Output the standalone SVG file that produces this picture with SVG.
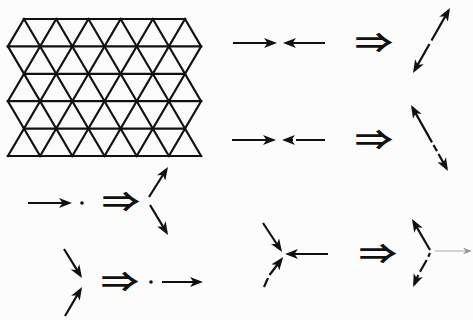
<svg xmlns="http://www.w3.org/2000/svg" width="473" height="320" viewBox="0 0 473 320">
<style>
.lat{fill:none;stroke:#111;stroke-width:2.2;stroke-linecap:square}
.ar{fill:none;stroke:#111;stroke-width:2.2;marker-end:url(#h)}
.dbl{fill:none;stroke:#111;stroke-width:2.2;marker-start:url(#h);marker-end:url(#h)}
.thin{fill:none;stroke:#aaa;stroke-width:1;marker-end:url(#hg)}
.imp{font-family:"Noto Sans CJK JP","DejaVu Sans",sans-serif;font-size:32px;font-weight:bold;fill:#111;text-anchor:middle}
.dot{fill:#111}
</style>
<defs>
<marker id="h" viewBox="0 0 13 10" refX="10" refY="5" markerWidth="13" markerHeight="10" markerUnits="userSpaceOnUse" orient="auto-start-reverse">
<path d="M0,0 L13,5 L0,10 L3.5,5 z" fill="#111"/>
</marker>
<marker id="hg" viewBox="0 0 10 8" refX="8" refY="4" markerWidth="9" markerHeight="7" markerUnits="userSpaceOnUse" orient="auto">
<path d="M0,0 L10,4 L0,8 L3,4 z" fill="#999"/>
</marker>
</defs>
<rect width="473" height="320" fill="#fcfcfc"/>
<g id="lattice" class="lat">
<path d="M24,19H185 M7.9,46.4H201.1 M24,73.8H185 M7.9,101.2H201.1 M24,128.6H185 M7.9,156H201.1"/>
<path d="M7.9,46.4L72.3,156 M7.9,101.2L40.1,156 M24,19L104.5,156 M56.2,19L136.7,156 M88.4,19L168.9,156 M120.6,19L201.1,156 M152.8,19L201.1,101.2 M185,19L201.1,46.4"/>
<path d="M24,19L7.9,46.4 M56.2,19L7.9,101.2 M88.4,19L7.9,156 M120.6,19L40.1,156 M152.8,19L72.3,156 M185,19L104.5,156 M201.1,46.4L136.7,156 M201.1,101.2L168.9,156"/>
</g>
<g id="connectors">
<path class="ar" d="M233,43H274"/>
<path class="ar" d="M325,43H286"/>
<path class="dbl" d="M414.5,70.4L429.5,44 M431.5,40.5L448.5,10.6"/>
<path class="ar" d="M232,140H273"/>
<path class="ar" d="M325,140H296 M293,140H285"/>
<path class="dbl" d="M412.5,107.6L432,142.4 M433.5,145L437,151.3 M438.5,154L446.5,168.4"/>
<path class="ar" d="M28,203H69"/>
<path class="ar" d="M149,197L166.4,169.5"/>
<path class="ar" d="M150,205L166.5,232.4"/>
<path class="ar" d="M64,249L80.4,275.4"/>
<path class="ar" d="M65,316L80.5,289.6"/>
<path class="ar" d="M162,282H200"/>
<path class="ar" d="M263,223L280.4,249.5"/>
<path class="ar" d="M328,254H288"/>
<path class="ar" d="M264,287L268,278 M269.5,275L281.4,259.5"/>
<path class="ar" d="M430,250L413.5,221.6"/>
<path class="ar" d="M430,253L428.3,256.7 M426.7,260L420,271.7 M418.3,275L414.3,284.3"/>
<path class="thin" d="M435,251H470"/>
</g>
<g id="symbols">
<text class="imp" transform="translate(374,43) scale(1.2,0.85)" y="12">⇒</text>
<text class="imp" transform="translate(374,140) scale(1.2,0.85)" y="12">⇒</text>
<text class="imp" transform="translate(121,202) scale(1.2,0.85)" y="12">⇒</text>
<text class="imp" transform="translate(120,282) scale(1.2,0.85)" y="12">⇒</text>
<text class="imp" transform="translate(378,254) scale(1.2,0.85)" y="12">⇒</text>
<circle class="dot" cx="82" cy="203" r="1.8"/>
<circle class="dot" cx="151" cy="282" r="1.8"/>
</g>
</svg>
